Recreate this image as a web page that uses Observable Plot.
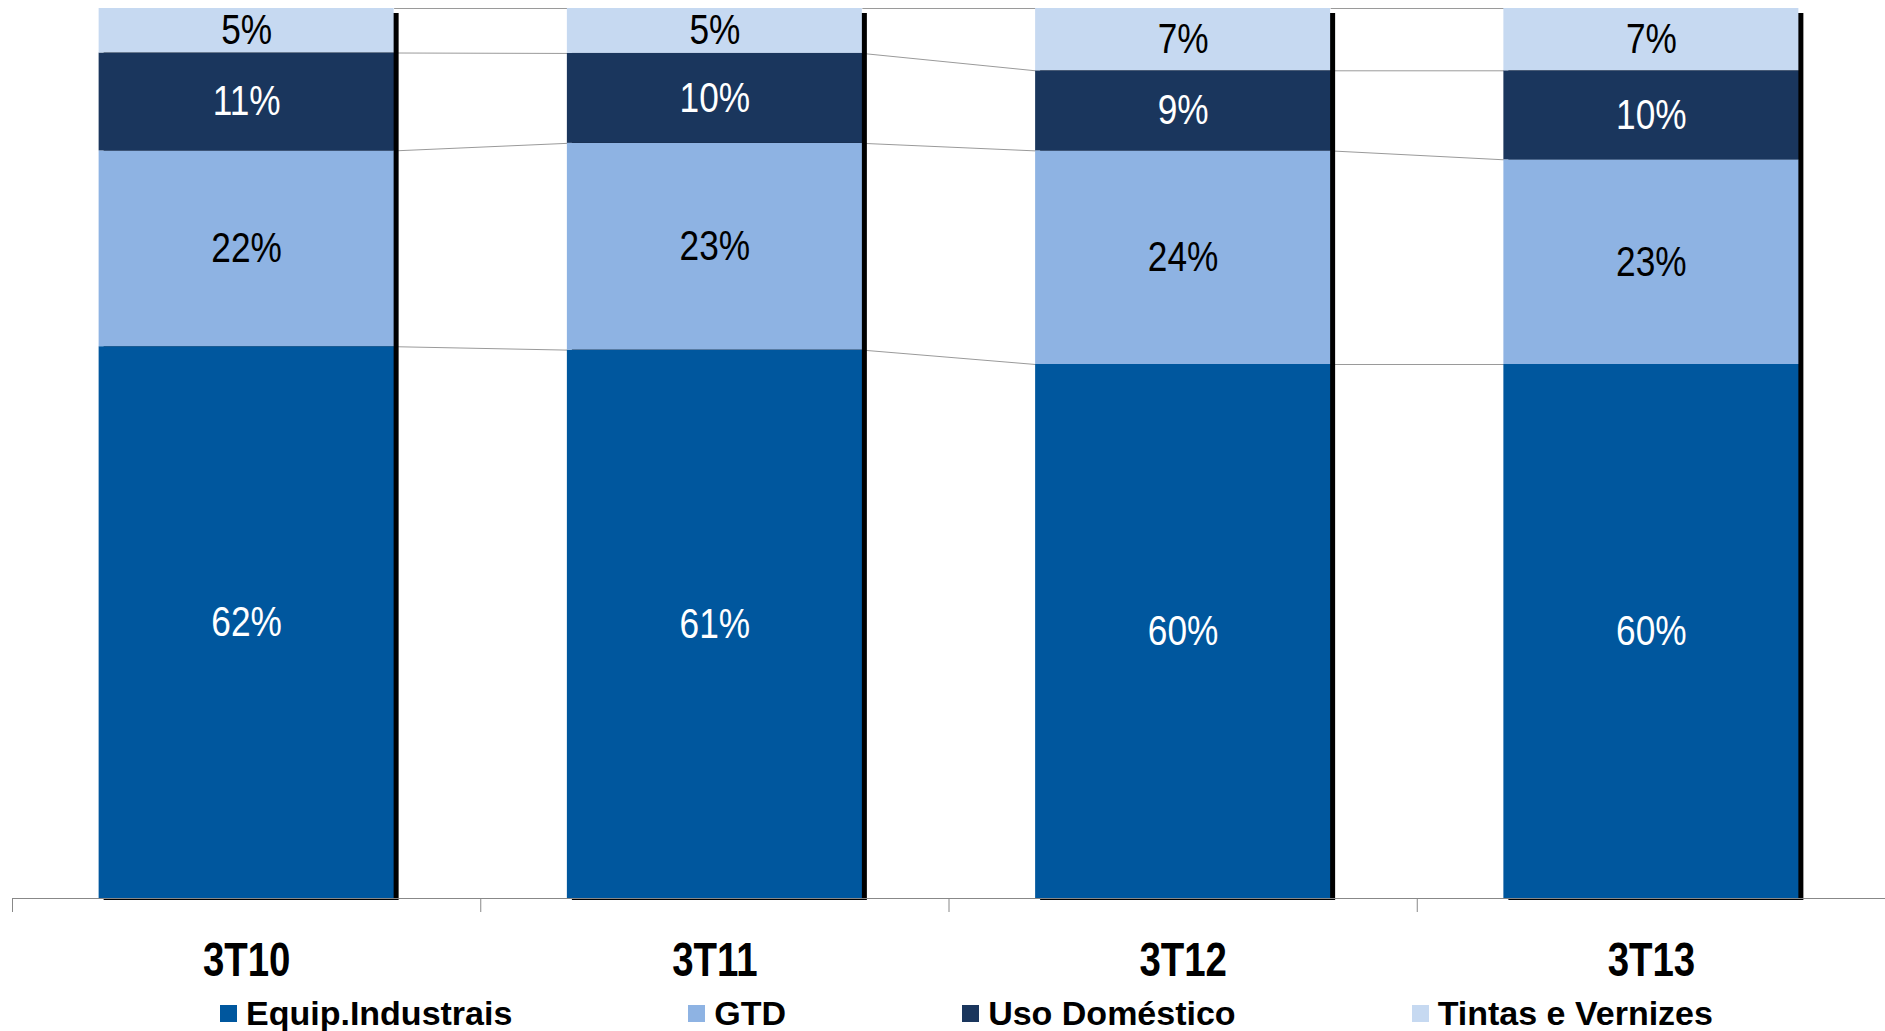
<!DOCTYPE html>
<html><head><meta charset="utf-8">
<script src="https://cdn.jsdelivr.net/npm/d3@7"></script>
<script src="https://cdn.jsdelivr.net/npm/@observablehq/plot@0.6"></script>
<style>
body{margin:0;background:#fff;}
#chart svg{display:block;}
#legend{display:flex;align-items:center;height:46px;padding-left:220px;font-family:"Liberation Sans",Arial,sans-serif;font-weight:bold;font-size:34px;color:#000;white-space:nowrap;}
#legend .item{display:flex;align-items:center;margin-right:176px;flex-shrink:0;white-space:nowrap;}
#legend .sw{width:17px;height:17px;margin-right:9px;flex-shrink:0;}
</style></head><body><div id="chart"></div><div id="legend"></div>
<script>
const categories = ["3T10","3T11","3T12","3T13"];
const series = ["Equip.Industrais","GTD","Uso Doméstico","Tintas e Vernizes"];
const equip = [62,61,60,60];
const gtd = [22,23,24,23];
const uso = [11,10,9,10];
const tintas = [5,5,7,7];
const colors = ["#00579e","#8eb3e3","#1a365d","#c6d9f1"];
const labelColors = ["#ffffff","#000000","#ffffff","#000000"];
const barWidth = 0.63;
const boundaries = [-0.5,0.5,1.5,2.5,3.5];

const values = [equip,gtd,uso,tintas];
const segs = [];
categories.forEach((c,i)=>{
  const total = d3.sum(values, v=>v[i]);
  let acc = 0;
  values.forEach((v,s)=>{
    const y1 = acc/total; acc += v[i]; const y2 = acc/total;
    segs.push({cat:c, i, s, series:series[s], value:v[i], y1, y2});
  });
});
const links = [];
for (let i=0;i<categories.length-1;i++){
  for (let s=0;s<series.length;s++){
    const a = segs.find(d=>d.i===i&&d.s===s), b = segs.find(d=>d.i===i+1&&d.s===s);
    links.push({x1:i+barWidth/2, x2:i+1-barWidth/2, y1:a.y2, y2:b.y2});
  }
}
const bars = categories.map((c,i)=>({i}));
const font = '"Liberation Sans",Arial,sans-serif';

const chart = Plot.plot({
  width:1885, height:990, marginLeft:12, marginRight:0, marginTop:8, marginBottom:92,
  x:{type:"linear", domain:[-0.5,3.5], axis:null},
  y:{domain:[0,1], axis:null},
  color:{domain:series, range:colors},
  style:{fontFamily:font, background:"#fff"},
  marks:[
    Plot.link(links, {x1:"x1", x2:"x2", y1:"y1", y2:"y2", stroke:"#9a9a9a", strokeWidth:1}),
    Plot.rect(bars, {x1:d=>d.i-barWidth/2, x2:d=>d.i+barWidth/2, y1:0, y2:1, fill:"#000", dx:5, dy:2, insetTop:3}),
    Plot.rect(segs, {x1:d=>d.i-barWidth/2, x2:d=>d.i+barWidth/2, y1:"y1", y2:"y2", fill:"series"}),
    Plot.text(segs, {x:"i", y:d=>(d.y1+d.y2)/2, text:d=>d.value+"%", fill:d=>labelColors[d.s], fontSize:42, className:"pct"}),
    Plot.ruleY([0], {stroke:"#888"}),
    Plot.axisX(boundaries, {tickSize:14, tickFormat:()=>"", stroke:"#888"}),
    Plot.axisX([0,1,2,3], {tickSize:0, tickPadding:43, tickFormat:i=>categories[i], fontSize:48, fontWeight:"bold", fill:"#000", className:"cat"})
  ]
});
document.getElementById("chart").appendChild(chart);

// condensed look: horizontal squeeze of each label around its anchor
function squeeze(sel, k){
  chart.querySelectorAll(sel).forEach(t=>{
    const tr = t.getAttribute("transform") || "";
    t.setAttribute("transform", tr + ` scale(${k},1)`);
  });
}
squeeze(".pct text", 0.84);
squeeze(".cat text", 0.8);

const legend = document.getElementById("legend");
series.forEach((s,k)=>{
  const it = document.createElement("div"); it.className="item";
  const sw = document.createElement("div"); sw.className="sw"; sw.style.background=colors[k];
  const tx = document.createElement("span"); tx.textContent=s;
  it.appendChild(sw); it.appendChild(tx); legend.appendChild(it);
});
</script></body></html>
